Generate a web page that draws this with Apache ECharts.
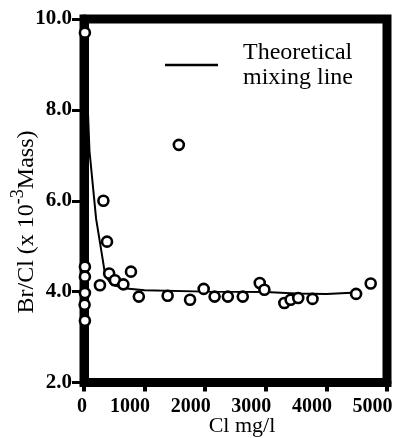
<!DOCTYPE html>
<html>
<head>
<meta charset="utf-8">
<script src="https://cdn.jsdelivr.net/npm/echarts@6/dist/echarts.min.js"></script>
<style>html,body{margin:0;padding:0;background:#fff}#c{width:396px;height:438px}</style>
</head>
<body>
<div id="c"></div>
<script>
// Observed samples: Cl (mg/l) and Br/Cl ratio (x 10^-3, mass)
var sampleCl    = [15, 15, 15, 15, 10, 15, 263, 320, 380, 415, 510, 650, 775, 905, 1380, 1565, 1750, 1975, 2155, 2374, 2620, 2900, 2977, 3306, 3410, 3535, 3771, 4490, 4731];
var sampleRatio = [9.7, 4.55, 4.33, 3.97, 3.71, 3.36, 4.14, 6.0, 5.1, 4.4, 4.25, 4.16, 4.44, 3.89, 3.91, 7.23, 3.82, 4.06, 3.89, 3.89, 3.89, 4.19, 4.04, 3.75, 3.82, 3.86, 3.84, 3.95, 4.18];
// Theoretical mixing line
var mixCl    = [15, 90, 200, 310, 350, 460, 700, 1000, 2000, 3000, 3500, 4000, 4500];
var mixRatio = [9.7, 7.1, 5.6, 4.7, 4.35, 4.15, 4.07, 4.03, 4.0, 3.99, 3.96, 3.95, 3.98];
// Axis ticks
var xTicks = [0, 1000, 2000, 3000, 4000, 5000];
var yTicks = [2.0, 4.0, 6.0, 8.0, 10.0];
var lineName = 'Theoretical mixing line';

var font = '"Liberation Serif", "DejaVu Serif", serif';
var chart = echarts.init(document.getElementById('c'));
var pts = sampleCl.map(function (c, i) { return [c, sampleRatio[i]]; });
var mix = mixCl.map(function (c, i) { return [c, mixRatio[i]]; });
var tickFont = { fontFamily: font, fontSize: 20, fontWeight: 'bold', color: '#000' };

chart.setOption({
  animation: false,
  backgroundColor: '#fff',
  grid: { left: 84, right: 9, top: 19, bottom: 55.5, containLabel: false, outerBoundsMode: 'none',
          show: true, borderColor: '#000', borderWidth: 9, backgroundColor: 'transparent' },
  legend: {
    show: true, data: [lineName], left: 160, top: 35, itemWidth: 53, itemHeight: 2.5, icon: 'rect',
    formatter: function () { return 'Theoretical\nmixing line'; },
    itemStyle: { color: '#000' },
    textStyle: { fontFamily: font, fontSize: 24, color: '#000', lineHeight: 25, padding: [0, 0, 0, 20] }
  },
  xAxis: {
    type: 'value', min: xTicks[0], max: xTicks[xTicks.length - 1], interval: 1000,
    name: 'Cl mg/l', nameLocation: 'middle', nameGap: 33, nameMoveOverlap: false,
    nameTextStyle: { fontFamily: font, fontSize: 22, color: '#000', padding: [0, 0, 0, 13] },
    axisLine: { lineStyle: { color: '#000', width: 9 } },
    axisTick: { length: 9, lineStyle: { color: '#000', width: 4 } },
    axisLabel: {
      margin: 14, fontFamily: font, fontSize: 20, fontWeight: 'bold', color: '#000',
      formatter: function (v) { return v === 0 ? '{z|0}' : '{n|' + v + '}'; },
      rich: {
        z: Object.assign({ padding: [0, 4, 0, 0] }, tickFont),
        n: Object.assign({ padding: [0, 29, 0, 0] }, tickFont)
      }
    },
    splitLine: { show: false }
  },
  yAxis: {
    type: 'value', min: yTicks[0], max: yTicks[yTicks.length - 1], interval: 2,
    axisLine: { lineStyle: { color: '#000', width: 9 } },
    axisTick: { length: 12, lineStyle: { color: '#000', width: 3 } },
    axisLabel: { margin: 12, fontFamily: font, fontSize: 21, fontWeight: 'bold', color: '#000', formatter: function (v) { return v.toFixed(1); } },
    splitLine: { show: false }
  },
  graphic: [{
    type: 'text', x: 24, y: 222, rotation: Math.PI / 2,
    style: {
      text: '{a|Br/Cl (x 10}{s|-3}{a|Mass)}',
      align: 'center', verticalAlign: 'middle',
      rich: {
        a: { fontFamily: font, fontSize: 24, fill: '#000', verticalAlign: 'bottom', lineHeight: 30 },
        s: { fontFamily: font, fontSize: 18, fill: '#000', verticalAlign: 'top', lineHeight: 30 }
      }
    }
  }],
  series: [{
    name: lineName, type: 'line', data: mix, symbol: 'none', z: 2,
    lineStyle: { color: '#000', width: 2 }, itemStyle: { color: '#000' }
  }, {
    name: 'samples', type: 'scatter', data: pts, symbol: 'circle', symbolSize: 10, z: 3,
    itemStyle: { color: '#fff', borderColor: '#000', borderWidth: 2.6, opacity: 1 }
  }]
});
</script>
</body>
</html>
